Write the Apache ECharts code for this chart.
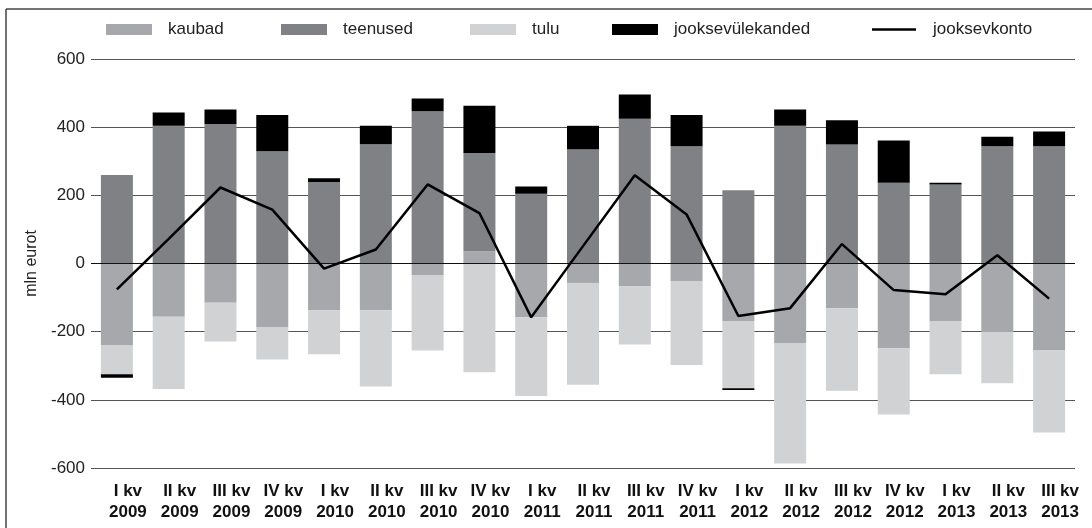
<!DOCTYPE html>
<html>
<head>
<meta charset="utf-8">
<script src="https://cdn.jsdelivr.net/npm/echarts@6/dist/echarts.min.js"></script>
<style>
html,body{margin:0;padding:0;background:#fff;}
#c{width:1092px;height:528px;}
</style>
</head>
<body>
<div id="c"></div>
<script>
const categories = ['I kv\n2009','II kv\n2009','III kv\n2009','IV kv\n2009','I kv\n2010','II kv\n2010','III kv\n2010','IV kv\n2010','I kv\n2011','II kv\n2011','III kv\n2011','IV kv\n2011','I kv\n2012','II kv\n2012','III kv\n2012','IV kv\n2012','I kv\n2013','II kv\n2013','III kv\n2013'];
const kaubad = [-239, -156, -115, -186, -137, -137, -34, 36, -158, -57, -66, -51, -169, -233, -131, -249, -169, -201, -254];
const teenused = [260, 404, 409, 329, 239, 350, 447, 288, 205, 335, 425, 344, 215, 404, 349, 237, 232, 344, 344];
const tulu = [-86, -212, -114, -96, -129, -224, -221, -319, -231, -299, -172, -247, -197, -354, -242, -194, -156, -150, -242];
const jooksevylekanded = [-10, 39, 43, 107, 11, 54, 37, 139, 21, 69, 71, 92, -5, 48, 71, 124, 5, 28, 43];
const jooksevkonto = [-76, 72, 223, 158, -15, 41, 232, 148, -158, 51, 259, 144, -154, -131, 57, -78, -90, 24, -103];
const yTicks = {min: -600, max: 600, interval: 200};

const FONT = "'Liberation Sans', Arial, sans-serif";
const names = ['kaubad','teenused','tulu','jooksevülekanded','jooksevkonto'];
const colors = ['#a7a8ab','#808184','#d1d2d4','#000000','#000000'];
const legendLeft = [106, 281, 470, 612, 872];

const chart = echarts.init(document.getElementById('c'));
const barSeries = [kaubad, teenused, tulu, jooksevylekanded].map((d, i) => ({
  name: names[i],
  type: 'bar',
  stack: 'total',
  data: d,
  barWidth: 32,
  itemStyle: {color: colors[i]},
  emphasis: {disabled: true}
}));

const option = {
  animation: false,
  textStyle: {fontFamily: FONT},
  color: colors,
  graphic: [
    {type: 'line', shape: {x1: 6, y1: 9, x2: 1092, y2: 9}, style: {stroke: '#444', lineWidth: 1.5}},
    {type: 'line', shape: {x1: 6, y1: 9, x2: 6, y2: 528}, style: {stroke: '#444', lineWidth: 1.5}}
  ],
  legend: names.map((n, i) => ({
    data: [{name: n, icon: 'rect'}],
    left: legendLeft[i],
    top: 21,
    padding: 0,
    itemWidth: i < 4 ? 46 : 44,
    itemHeight: i < 4 ? 11 : 2.5,
    selectedMode: false,
    itemStyle: {color: colors[i], borderWidth: 0},
    lineStyle: {width: 0},
    textStyle: {fontSize: 17, color: '#222', fontFamily: FONT, padding: [0, 0, 0, i < 4 ? 11 : 12]}
  })),
  grid: {left: 91, right: 17, top: 59, bottom: 60},
  xAxis: {
    type: 'category',
    data: categories,
    axisLine: {show: false, onZero: false},
    axisTick: {show: false},
    axisLabel: {
      interval: 0, fontSize: 17, fontWeight: 'bold', color: '#111',
      lineHeight: 21, margin: 13, padding: [0, 0, 0, 22], fontFamily: FONT
    }
  },
  yAxis: {
    type: 'value',
    min: yTicks.min, max: yTicks.max, interval: yTicks.interval,
    name: 'mln eurot',
    nameLocation: 'middle',
    nameGap: 49,
    nameTextStyle: {fontSize: 16, color: '#222', fontFamily: FONT},
    axisLine: {show: false},
    axisTick: {show: false},
    axisLabel: {fontSize: 17, color: '#222', margin: 6, fontFamily: FONT},
    splitLine: {lineStyle: {color: '#555', width: 1}}
  },
  series: [
    ...barSeries,
    {
      name: 'jooksevkonto',
      type: 'line',
      data: jooksevkonto,
      symbol: 'none',
      showSymbol: false,
      lineStyle: {color: '#000', width: 2.5},
      itemStyle: {color: '#000'},
      emphasis: {disabled: true},
      z: 5,
      markLine: {
        silent: true,
        symbol: 'none',
        label: {show: false},
        lineStyle: {color: '#111', width: 1, type: 'solid'},
        data: [{yAxis: 0}]
      }
    }
  ]
};
chart.setOption(option);
</script>
</body>
</html>
